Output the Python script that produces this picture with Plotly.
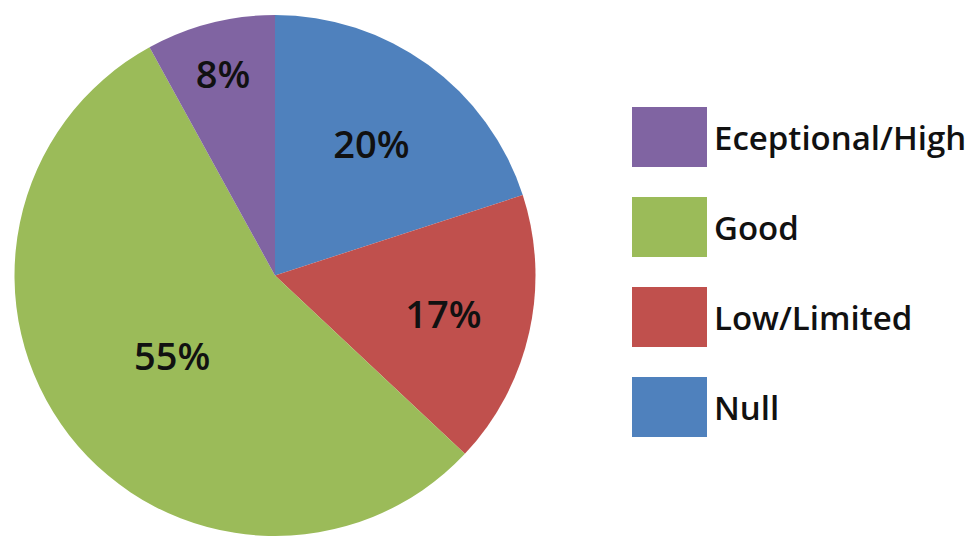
import plotly.graph_objects as go

labels = ["Eceptional/High", "Good", "Low/Limited", "Null"]
values = [8, 55, 17, 20]
colors = ["#8064A2", "#9BBB59", "#C0504D", "#4F81BD"]

# page body has an 8px margin; figure fills the rest of the 974x536 window
OFF = 8
W, H = 974 - OFF, 536 - OFF
FONT = "Open Sans"


def px_x(x):
    return (x - OFF) / W


def px_y(y):
    return 1 - (y - OFF) / H


cx, cy, r = 275, 276, 261

fig = go.Figure()
# drawn clockwise from 12 o'clock: Null, Low/Limited, Good, Eceptional/High
fig.add_trace(go.Pie(
    labels=labels[::-1],
    values=values[::-1],
    sort=False,
    direction="clockwise",
    rotation=0,
    marker=dict(colors=colors[::-1], line=dict(width=0)),
    textinfo="percent",
    texttemplate="%{percent:.0%}",
    textposition="inside",
    insidetextorientation="horizontal",
    textfont=dict(family=FONT, size=38, color="#111111", weight=600),
    domain=dict(x=[px_x(cx - r), px_x(cx + r)],
                y=[max(0, px_y(cy + r)), px_y(cy - r)]),
    showlegend=False,
    hoverinfo="label+percent",
))

# custom legend with large swatches
box_x0, box_x1 = 632, 707
box_h = 60
first_top = 107
step = 90
shapes = []
annotations = []
for i, (lab, col) in enumerate(zip(labels, colors)):
    top = first_top + i * step
    shapes.append(dict(
        type="rect", xref="paper", yref="paper",
        x0=px_x(box_x0), x1=px_x(box_x1),
        y0=px_y(top + box_h), y1=px_y(top),
        fillcolor=col, line=dict(width=0),
    ))
    annotations.append(dict(
        x=px_x(712), y=px_y(top + box_h / 2),
        xref="paper", yref="paper", xanchor="left", yanchor="middle",
        text=lab, showarrow=False,
        font=dict(family=FONT, size=33, color="#111111", weight=600),
    ))

fig.update_layout(
    width=W, height=H,
    margin=dict(l=0, r=0, t=0, b=0),
    paper_bgcolor="white",
    plot_bgcolor="white",
    shapes=shapes,
    annotations=annotations,
)

fig.write_html("out.html")
